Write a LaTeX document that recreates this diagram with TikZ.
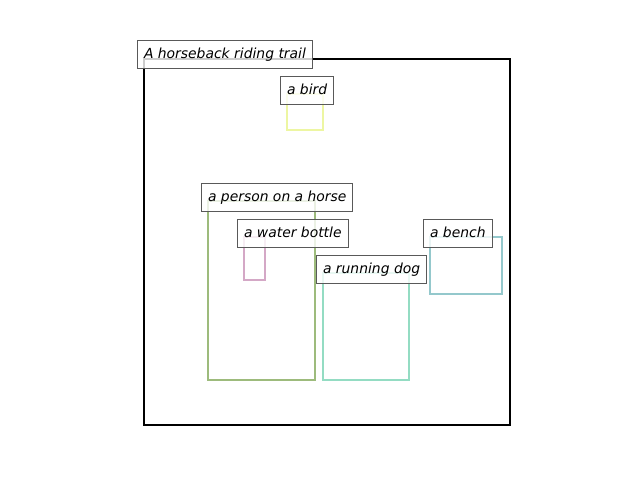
\documentclass[tikz,border=0pt]{standalone}
\usepackage{fontspec}
\setmainfont{DejaVu Sans}
\usetikzlibrary{positioning}
\definecolor{birdcol}{HTML}{EDF6A2}
\definecolor{horsecol}{HTML}{9DBB7C}
\definecolor{bottlecol}{HTML}{D4A8C6}
\definecolor{dogcol}{HTML}{94DCC3}
\definecolor{benchcol}{HTML}{94C8CC}

\begin{document}
\begin{tikzpicture}[x=1pt, y=-1pt,
   region/.style={line width=2.2pt},
   caption/.style={draw=black!65, line width=1pt, fill=white, fill opacity=0.8,
      text opacity=1, anchor=west, inner xsep=6.5pt, minimum height=28pt,
      text height=11pt, text depth=2pt,
      font=\fontsize{13.9}{16}\selectfont\itshape}]
   \useasboundingbox (0,0) rectangle (640,480);

   % whole scene
   \draw[line width=2pt] (144,59) rectangle (510,425);

   % regions
   \draw[region, birdcol] (287,94) rectangle (323,130);
   \draw[region, horsecol] (208,201) rectangle (315,380);
   \draw[region, bottlecol] (244,237) rectangle (265,280);
   \draw[region, dogcol] (323,273) rectangle (409,380);
   \draw[region, benchcol] (430,237) rectangle (502,294);

   % captions
   \node[caption] (trail) at (137,54) {A horseback riding trail};
   \node[caption] (bird) at (280,90) {a bird};
   \node[caption] (horse) at (201,197) {a person on a horse};
   \node[caption] (bottle) at (237,233) {a water bottle};
   \node[caption] (dog) at (316,269) {a running dog};
   \node[caption] (bench) at (423,233) {a bench};
\end{tikzpicture}
\end{document}
